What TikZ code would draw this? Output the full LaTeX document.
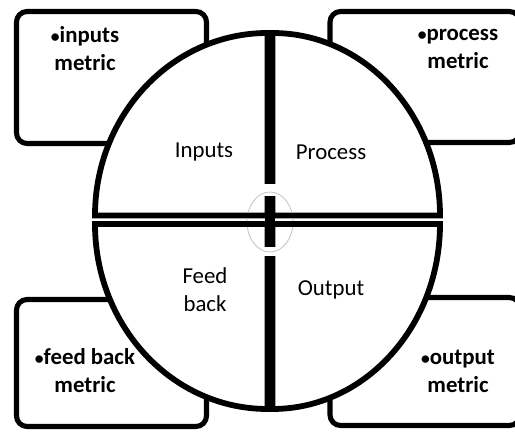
\documentclass[tikz,border=0pt]{standalone}
\usepackage{fontspec}
\setmainfont{Carlito}
\usetikzlibrary{positioning}
\newcommand{\metricdot}{{\fontsize{10}{16}\selectfont•}}
\tikzset{
    metricBox/.style={
        draw=black, fill=white, line width=2.9pt, rounded corners=6pt, minimum width=3.8cm, minimum height=2.6cm, inner sep=0pt
    },
    metricText/.style={
        align=center, font=\fontsize{13}{16}\selectfont\bfseries, inner sep=0pt
    },
    quadrantShape/.style={
        draw=black, fill=white, line width=3.3pt, line join=miter
    },
    quadrantLabel/.style={
        align=center, font=\fontsize{13}{16}\selectfont, inner sep=0pt
    },
    hubRing/.style={
        draw=black!22, line width=0.5pt
    }
}

\begin{document}
\begin{tikzpicture}[x=0.02cm, y=-0.02cm]
    \useasboundingbox (0,0) rectangle (515,432);

    % ── METRIC BOXES (behind the circle)
    \node[metricBox, minimum height=2.64cm] (inputsBox) at (111.5, 77.5) {};
    \node[metricBox, minimum height=2.62cm] (processBox) at (425, 77) {};
    \node[metricBox, minimum height=2.54cm] (feedbackBox) at (111.5, 363) {};
    \node[metricBox, minimum height=2.56cm] (outputBox) at (425, 361.5) {};

    % ── FOUR QUADRANTS
    \draw[quadrantShape] (267.5,215.5) -- (95,215.5)
        arc[start angle=180, end angle=270, x radius=172.5, y radius=182.5] -- cycle;
    \draw[quadrantShape] (272.5,215.5) -- (272.5,33)
        arc[start angle=270, end angle=360, x radius=167.5, y radius=182.5] -- cycle;
    \draw[quadrantShape] (267.5,224) -- (267.5,409)
        arc[start angle=90, end angle=180, x radius=172.5, y radius=185] -- cycle;
    \draw[quadrantShape] (272.5,224) -- (440,224)
        arc[start angle=0, end angle=90, x radius=167.5, y radius=185] -- cycle;

    % ── CENTRE HUB
    \fill[white] (262,184) rectangle (278,196);
    \fill[white] (262,247) rectangle (278,256);
    \draw[hubRing] (270,222) ellipse[x radius=23, y radius=30];
    \fill[black] (264.6,196) rectangle (275.4,247);
    \fill[black] (240,212.6) rectangle (300,218.4);
    \fill[black] (240,221.1) rectangle (300,226.9);

    % ── QUADRANT LABELS
    \node[quadrantLabel] (inputs) at (204, 152) {Inputs};
    \node[quadrantLabel] (process) at (331, 152) {Process};
    \node[quadrantLabel] (feedback) at (205, 290) {Feed\\back};
    \node[quadrantLabel] (output) at (331, 290) {Output};

    % ── METRIC TEXTS
    \node[metricText] (inputsMetric) at (85, 49) {\metricdot inputs\\metric};
    \node[metricText] (processMetric) at (458, 49) {\metricdot process\\metric};
    \node[metricText] (feedbackMetric) at (85, 371) {\metricdot feed back\\metric};
    \node[metricText] (outputMetric) at (458, 371) {\metricdot output\\metric};
\end{tikzpicture}
\end{document}
